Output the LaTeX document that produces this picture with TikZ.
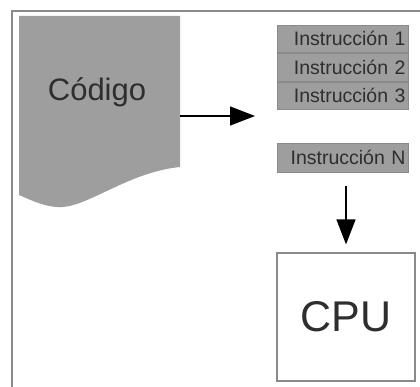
\documentclass[tikz,border=0pt]{standalone}
\usepackage{fontspec}
\setmainfont{Liberation Sans}
\usetikzlibrary{arrows.meta}
\definecolor{boxgray}{HTML}{9E9E9E}
\definecolor{edgegray}{HTML}{8A8A8A}
\definecolor{txt}{HTML}{2E2E2E}
\tikzset{
  ibox/.style={draw=edgegray, fill=boxgray, line width=0.8pt, minimum width=131pt,
    text width=125pt, align=right, inner xsep=3pt, inner ysep=0pt, text=txt,
    font=\fontsize{19.5}{20}\selectfont},
  cpubox/.style={draw=edgegray, fill=white, line width=1.2pt, minimum width=138pt,
    minimum height=128pt, text=txt, font=\fontsize{43}{44}\selectfont},
  bigarrow/.style={line width=1.4pt, -{Triangle[length=25pt,width=19pt]}},
}
\begin{document}
\begin{tikzpicture}[x=1pt,y=-1pt]
\useasboundingbox (0,0) rectangle (420,387);
% frame
\draw[edgegray, line width=1.5pt] (12,387) -- (12,11) -- (420,11);
% document shape
\fill[boxgray] (19,16) -- (180,16) -- (180,167)
  .. controls (130,172) and (90,205) .. (63,207)
  .. controls (48,208) and (35,202) .. (19,195) -- cycle;
\node[text=txt, font=\fontsize{31}{32}\selectfont] (code) at (97,92) {Código};
\coordinate (codeout) at (180,116);
% instruction stack
\node[ibox, minimum height=27.7pt] (i1) at (343,38.8) {Instrucción 1};
\node[ibox, minimum height=27.7pt, anchor=north] (i2) at (i1.south) {Instrucción 2};
\node[ibox, minimum height=27.7pt, anchor=north] (i3) at (i2.south) {Instrucción 3};
\node[ibox, minimum height=29pt] (iN) at (343,157.5) {Instrucción N};
\coordinate (instin) at (255,116);
% CPU
\node[cpubox] (cpu) at (346,317) {CPU};
% arrows
\draw[bigarrow] (codeout) -- (instin);
\draw[bigarrow, shorten <=14pt, shorten >=8pt] (iN.south -| cpu.north) -- (cpu.north);
\end{tikzpicture}
\end{document}
